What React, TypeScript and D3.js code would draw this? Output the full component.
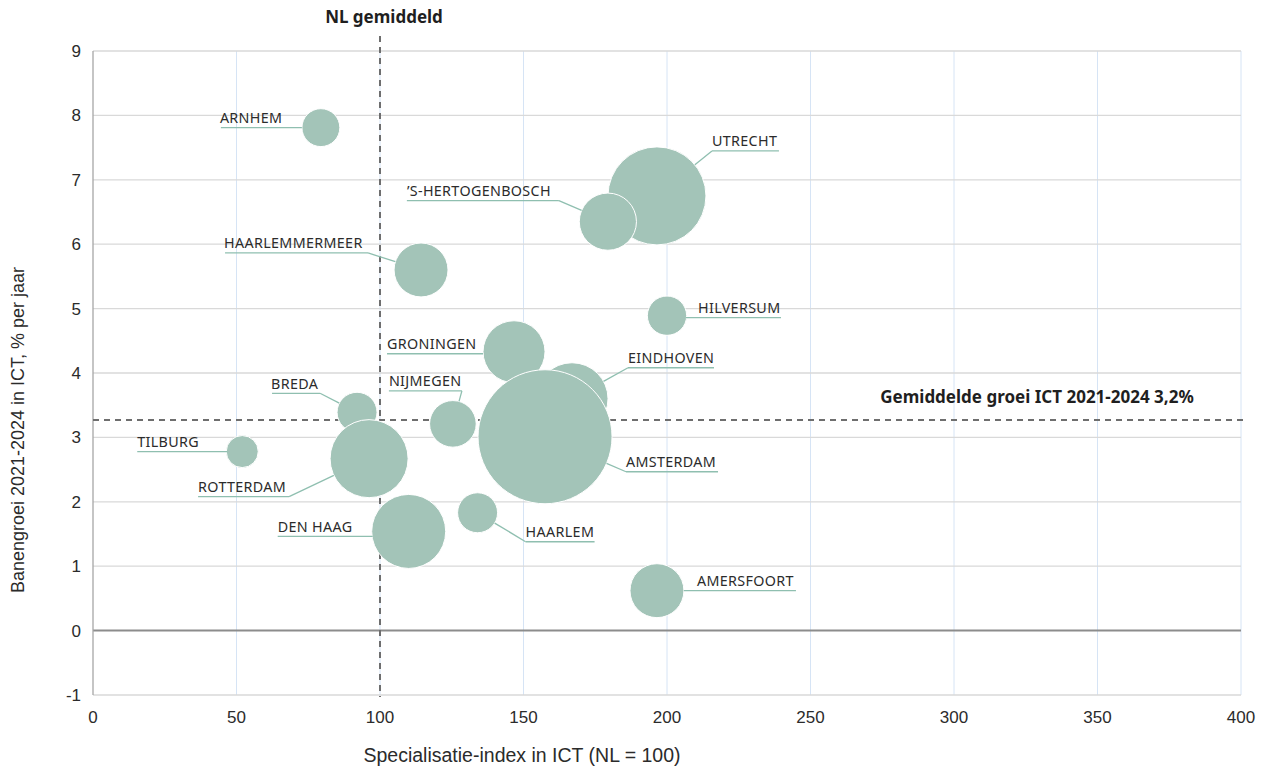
import React from "react";
import * as d3 from "d3";

// ---- data ----
const cities = [
  "UTRECHT", "’S-HERTOGENBOSCH", "ARNHEM", "HAARLEMMERMEER", "HILVERSUM",
  "EINDHOVEN", "GRONINGEN", "AMSTERDAM", "NIJMEGEN", "BREDA",
  "ROTTERDAM", "TILBURG", "DEN HAAG", "HAARLEM", "AMERSFOORT",
];
const specIndex = [196.5, 179.4, 79.4, 114.3, 200, 166.9, 146.7, 157.5, 125.4, 92, 96.2, 52, 110, 134, 196.5];
const growth = [6.75, 6.35, 7.81, 5.6, 4.89, 3.6, 4.33, 3.01, 3.21, 3.39, 2.67, 2.78, 1.54, 1.83, 0.62];
const ictJobs = [53.5, 18.2, 8.0, 16.2, 8.6, 28.9, 21.4, 100, 12.1, 8.9, 33.9, 5.7, 30.5, 8.9, 16.2];

const xTicks = [0, 50, 100, 150, 200, 250, 300, 350, 400];
const yTicks = [-1, 0, 1, 2, 3, 4, 5, 6, 7, 8, 9];
const nlAverage = 100;
const avgGrowth = 3.27;

// label layout (pixel offsets relative to bubble centre): underline u1..u2 at uy, text at tx
const labelLayout: Record<string, { u1: number; u2: number; uy: number; tx: number }> = {
  "ARNHEM": { u1: -100, u2: -19, uy: 0, tx: -101 },
  "UTRECHT": { u1: 55, u2: 122, uy: -45, tx: 55 },
  "’S-HERTOGENBOSCH": { u1: -201, u2: -49, uy: -21, tx: -201 },
  "HAARLEMMERMEER": { u1: -196, u2: -53, uy: -17, tx: -197 },
  "HILVERSUM": { u1: 19, u2: 114, uy: 2, tx: 31 },
  "GRONINGEN": { u1: -127, u2: -31, uy: 2, tx: -127 },
  "EINDHOVEN": { u1: 56, u2: 142, uy: -31, tx: 56 },
  "AMSTERDAM": { u1: 81, u2: 173, uy: 35, tx: 81 },
  "NIJMEGEN": { u1: -64, u2: 9, uy: -33, tx: -64 },
  "BREDA": { u1: -85, u2: -37, uy: -19, tx: -86 },
  "ROTTERDAM": { u1: -171, u2: -80, uy: 38, tx: -171 },
  "TILBURG": { u1: -105, u2: -15, uy: 0, tx: -105 },
  "DEN HAAG": { u1: -131, u2: -36, uy: 5, tx: -131 },
  "HAARLEM": { u1: 48, u2: 117, uy: 29, tx: 48 },
  "AMERSFOORT": { u1: 27, u2: 139, uy: 0, tx: 40 },
};

const W = 1277, H = 767;
const left = 93, right = 1241, top = 51, bottom = 695;

export default function App() {
  const x = d3.scaleLinear().domain([0, 400]).range([left, right]);
  const y = d3.scaleLinear().domain([-1, 9]).range([bottom, top]);
  const r = d3.scaleSqrt().domain([0, 100]).range([0, 67]);

  const bubbleFill = "#a3c4b8";
  const leaderColor = "#8fbfb0";
  const textColor = "#2b2b2b";
  const tickFont = "'Liberation Sans', Arial, sans-serif";
  const labelFont = "'Noto Sans', 'Open Sans', sans-serif";
  const boldFont = "'Noto Sans', 'Open Sans', sans-serif";

  const points = cities.map((c, i) => ({
    name: c,
    cx: x(specIndex[i]),
    cy: y(growth[i]),
    rr: r(ictJobs[i]),
  }));

  return (
    <svg width={W} height={H} style={{ position: "absolute", left: 0, top: 0, background: "#fff" }}>
      {/* vertical gridlines */}
      {xTicks.filter((t) => t > 0).map((t) => (
        <line key={"vx" + t} x1={x(t)} x2={x(t)} y1={top} y2={bottom} stroke="#d6e4f5" strokeWidth={1} />
      ))}
      {/* horizontal gridlines */}
      {yTicks.filter((t) => t !== 0).map((t) => (
        <line key={"hy" + t} x1={left} x2={right} y1={y(t)} y2={y(t)} stroke="#d9d9d9" strokeWidth={1.3} />
      ))}
      {/* zero line */}
      <line x1={left} x2={right} y1={y(0)} y2={y(0)} stroke="#8c8c8c" strokeWidth={2} />
      {/* left axis */}
      <line x1={left} x2={left} y1={top} y2={bottom} stroke="#a6a6a6" strokeWidth={1.3} />

      {/* reference lines */}
      <line x1={left} x2={right + 4} y1={y(avgGrowth)} y2={y(avgGrowth)} stroke="#6e6e6e" strokeWidth={1.8} strokeDasharray="6,5" />
      <line x1={x(nlAverage)} x2={x(nlAverage)} y1={36} y2={bottom + 2} stroke="#6e6e6e" strokeWidth={2} strokeDasharray="6,5" />

      {/* bubbles */}
      {points.map((p) => (
        <circle key={p.name} cx={p.cx} cy={p.cy} r={p.rr} fill={bubbleFill} stroke="#ffffff" strokeWidth={1} />
      ))}

      {/* labels with leader lines */}
      {points.map((p) => {
        const L = labelLayout[p.name];
        const uy = p.cy + L.uy;
        const ux1 = p.cx + L.u1;
        const ux2 = p.cx + L.u2;
        const near = L.u1 > 0 ? ux1 : ux2;
        const vx = near - p.cx, vy = uy - p.cy;
        const dist = Math.hypot(vx, vy);
        const hasLeader = dist > p.rr + 1;
        const ex = p.cx + (vx / dist) * p.rr;
        const ey = p.cy + (vy / dist) * p.rr;
        return (
          <g key={"l" + p.name}>
            <line x1={ux1} x2={ux2} y1={uy} y2={uy} stroke={leaderColor} strokeWidth={1.3} />
            {hasLeader && <line x1={near} y1={uy} x2={ex} y2={ey} stroke={leaderColor} strokeWidth={1.3} />}
            <text x={p.cx + L.tx} y={uy - 4.5} fontFamily={labelFont} fontSize={14.3} fill={textColor} letterSpacing={0.35}>
              {p.name}
            </text>
          </g>
        );
      })}

      {/* y ticks */}
      {yTicks.map((t) => (
        <text key={"yt" + t} x={81} y={y(t) + 6} textAnchor="end" fontFamily={tickFont} fontSize={17} fill={textColor}>
          {t}
        </text>
      ))}
      {/* x ticks */}
      {xTicks.map((t) => (
        <text key={"xt" + t} x={x(t)} y={723} textAnchor="middle" fontFamily={tickFont} fontSize={17} fill={textColor}>
          {t}
        </text>
      ))}

      {/* axis titles */}
      <text x={522} y={762} textAnchor="middle" fontFamily={tickFont} fontSize={19.5} fill={textColor}>
        Specialisatie-index in ICT (NL = 100)
      </text>
      <text transform={`translate(24,430) rotate(-90)`} textAnchor="middle" fontFamily={tickFont} fontSize={18} fill={textColor}>
        Banengroei 2021-2024 in ICT, % per jaar
      </text>

      {/* annotations */}
      <text x={x(nlAverage) + 4} y={23} textAnchor="middle" fontFamily={boldFont} fontWeight="bold" fontSize={17} fill="#1f1f1f">
        NL gemiddeld
      </text>
      <text x={1037} y={403} textAnchor="middle" fontFamily={boldFont} fontWeight="bold" fontSize={17} fill="#1f1f1f">
        Gemiddelde groei ICT 2021-2024 3,2%
      </text>
    </svg>
  );
}
